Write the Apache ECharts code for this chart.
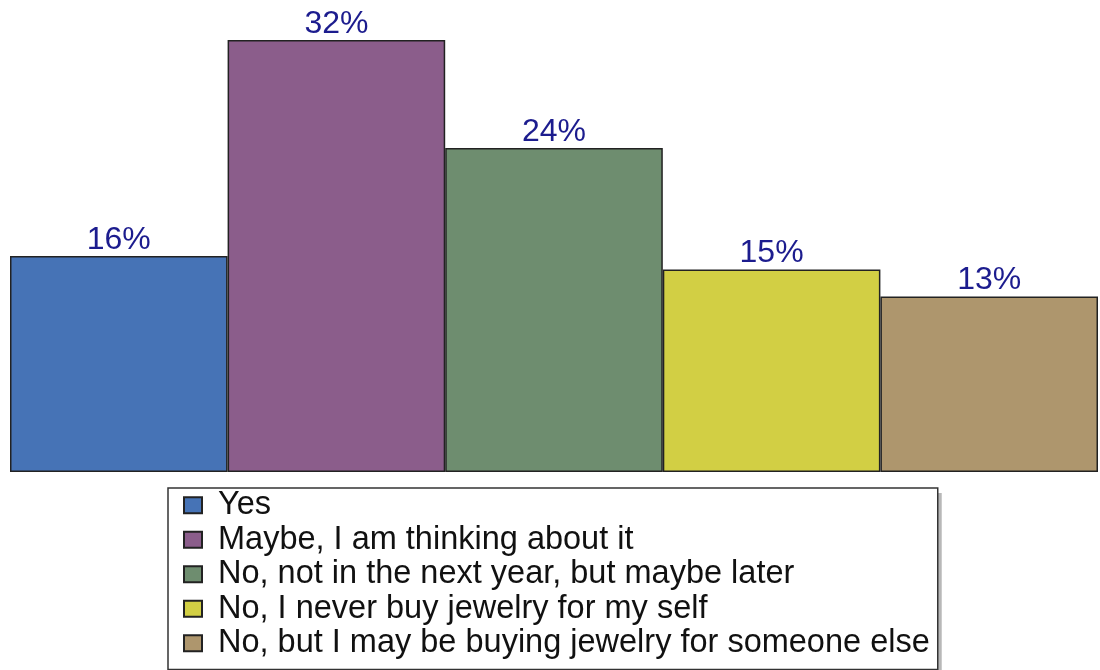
<!DOCTYPE html>
<html>
<head>
<meta charset="utf-8">
<title>Jewelry purchase intentions</title>
<script src="https://cdn.jsdelivr.net/npm/echarts@6/dist/echarts.min.js"></script>
<style>
  html, body { margin: 0; padding: 0; background: #ffffff; }
  #chart { width: 1100px; height: 670px; }
</style>
</head>
<body>
<div id="chart"></div>
<script>
// Survey answers and their shares (percent)
const categories = [
  'Yes',
  'Maybe, I am thinking about it',
  'No, not in the next year, but maybe later',
  'No, I never buy jewelry for my self',
  'No, but I may be buying jewelry for someone else'
];
const values = [16, 32, 24, 15, 13];
const colors = ['#4673b6', '#8b5d8b', '#6e8d6f', '#d2cf44', '#ae966d'];

const FONT = 'Liberation Sans, Arial, sans-serif';
const LEGEND_FONT_SIZE = 32.5;
const LEGEND_LINE = 34.5;
const LEGEND_PAD = [0, 8, 9, 15];
const ICON_W = 18, ICON_H = 16, TEXT_PAD = 11;
const LEGEND_LEFT = 168, LEGEND_TOP = 488;

// Legend box size, used for the drop shadow behind it
const ctx = document.createElement('canvas').getContext('2d');
ctx.font = LEGEND_FONT_SIZE + 'px ' + FONT;
const textW = Math.max(...categories.map(c => ctx.measureText(c).width));
const legendW = LEGEND_PAD[3] + ICON_W + 5 + TEXT_PAD + textW + LEGEND_PAD[1];
const legendH = LEGEND_PAD[0] + LEGEND_LINE * categories.length + LEGEND_PAD[2];

// One series per answer so each gets its own legend entry; stacking keeps
// every bar at the full category width.
const series = categories.map((name, i) => ({
  name: name,
  type: 'bar',
  stack: 'all',
  barWidth: '100%',
  data: values.map((v, j) => (j === i ? v : '-')),
  itemStyle: { color: colors[i], borderColor: '#222222', borderWidth: 1.5 },
  label: {
    show: true,
    position: 'top',
    distance: 0,
    formatter: '{c}%',
    color: '#1c1c8e',
    fontSize: 32,
    fontFamily: FONT
  },
  emphasis: { disabled: true }
}));

const chart = echarts.init(document.getElementById('chart'));
chart.setOption({
  animation: false,
  backgroundColor: '#ffffff',
  grid: { left: 10, right: 2, top: 40, bottom: 198 },
  xAxis: {
    type: 'category',
    data: categories,
    axisLine: { show: false },
    axisTick: { show: false },
    axisLabel: { show: false }
  },
  yAxis: {
    type: 'value',
    min: 0,
    max: 32,
    show: false,
    splitLine: { show: false }
  },
  graphic: [{
    type: 'rect',
    z: 1,
    silent: true,
    shape: { x: LEGEND_LEFT + 5, y: LEGEND_TOP + 5, width: legendW, height: legendH },
    style: { fill: 'rgba(0,0,0,0.28)' }
  }],
  legend: {
    orient: 'vertical',
    left: LEGEND_LEFT,
    top: LEGEND_TOP,
    z: 3,
    itemWidth: ICON_W,
    itemHeight: ICON_H,
    itemGap: 0,
    padding: LEGEND_PAD,
    borderColor: '#333333',
    borderWidth: 1.5,
    backgroundColor: '#ffffff',
    selectedMode: false,
    icon: 'rect',
    data: categories,
    textStyle: {
      fontSize: LEGEND_FONT_SIZE,
      lineHeight: LEGEND_LINE,
      color: '#111111',
      fontFamily: FONT,
      padding: [0, 0, 0, TEXT_PAD]
    }
  },
  series: series
});
</script>
</body>
</html>
